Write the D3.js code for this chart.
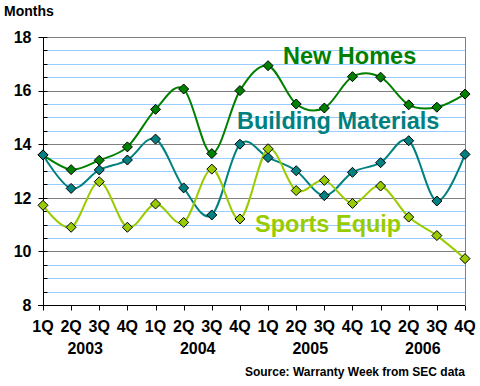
<!DOCTYPE html>
<html lang="en">
<head>
<meta charset="UTF-8">
<title>Warranty months</title>
<script src="https://d3js.org/d3.v7.min.js"></script>
<style>
  body { margin: 0; background: #fff; }
  text { font-family: Arial, "Liberation Sans", sans-serif; }
</style>
</head>
<body>
<script>
// quarters and years
var quarters = ["1Q","2Q","3Q","4Q","1Q","2Q","3Q","4Q","1Q","2Q","3Q","4Q","1Q","2Q","3Q","4Q"];
var years = ["2003", "2004", "2005", "2006"];
var yTicks = [8, 10, 12, 14, 16, 18];

// series values (months)
var newHomes = [13.6, 13.05, 13.4, 13.9, 15.3, 16.06, 13.65, 16.0, 16.93, 15.5, 15.35, 16.52, 16.5, 15.47, 15.38, 15.87];
var buildingMaterials = [13.6, 12.35, 13.04, 13.41, 14.19, 12.37, 11.36, 14.0, 13.5, 13.01, 12.08, 12.95, 13.31, 14.13, 11.88, 13.62];
var sportsEquip = [11.72, 10.9, 12.6, 10.9, 11.77, 11.08, 13.07, 11.21, 13.83, 12.27, 12.65, 11.79, 12.44, 11.28, 10.59, 9.73];

var series = [
  { name: "New Homes", values: newHomes, color: "#008000", lx: 283, ly: 64 },
  { name: "Building Materials", values: buildingMaterials, color: "#008080", lx: 237, ly: 129 },
  { name: "Sports Equip", values: sportsEquip, color: "#99CC00", lx: 255, ly: 232 }
];

var width = 480, height = 386;
var margin = { left: 43, right: 15, top: 37, bottom: 81 };

var svg = d3.select("body").append("svg")
  .attr("width", width)
  .attr("height", height);

var x = d3.scaleLinear()
  .domain([0, quarters.length - 1])
  .range([margin.left, width - margin.right]);

var y = d3.scaleLinear()
  .domain([8, 18])
  .range([height - margin.bottom, margin.top]);

// gridlines: light blue every 0.5, gray every 2
var minor = d3.range(8.5, 18, 0.5).filter(function (v) { return v % 2 !== 0; });
svg.append("g").selectAll("line")
  .data(minor)
  .enter().append("line")
  .attr("x1", x(0)).attr("x2", x(15))
  .attr("y1", function (d) { return Math.round(y(d)) + 0.5; })
  .attr("y2", function (d) { return Math.round(y(d)) + 0.5; })
  .attr("stroke", "#99CCFF");

svg.append("g").selectAll("line")
  .data(yTicks.slice(1))
  .enter().append("line")
  .attr("x1", x(0)).attr("x2", x(15))
  .attr("y1", function (d) { return Math.round(y(d)) + 0.5; })
  .attr("y2", function (d) { return Math.round(y(d)) + 0.5; })
  .attr("stroke", "#808080");

// right border
svg.append("line")
  .attr("x1", Math.round(x(15)) + 0.5).attr("x2", Math.round(x(15)) + 0.5)
  .attr("y1", y(18)).attr("y2", y(8))
  .attr("stroke", "#808080");

// y axis
var yAxis = svg.append("g")
  .attr("transform", "translate(" + (Math.round(x(0)) + 0.5) + ",0)");
yAxis.append("line")
  .attr("y1", y(18)).attr("y2", y(8)).attr("stroke", "#000");
yAxis.selectAll("line.major")
  .data(yTicks)
  .enter().append("line")
  .attr("class", "major")
  .attr("x1", -5).attr("x2", 4)
  .attr("y1", function (d) { return Math.round(y(d)) + 0.5; })
  .attr("y2", function (d) { return Math.round(y(d)) + 0.5; })
  .attr("stroke", "#000");
yAxis.selectAll("line.minor")
  .data(minor)
  .enter().append("line")
  .attr("class", "minor")
  .attr("x1", 0).attr("x2", 4)
  .attr("y1", function (d) { return Math.round(y(d)) + 0.5; })
  .attr("y2", function (d) { return Math.round(y(d)) + 0.5; })
  .attr("stroke", "#000");
yAxis.selectAll("text")
  .data(yTicks)
  .enter().append("text")
  .attr("x", -12)
  .attr("y", function (d) { return y(d); })
  .attr("dy", "0.36em")
  .attr("text-anchor", "end")
  .style("font-size", "16px").style("font-weight", "bold")
  .text(function (d) { return d; });

// x axis
var xAxis = svg.append("g")
  .attr("transform", "translate(0," + (Math.round(y(8)) + 0.5) + ")");
xAxis.append("line")
  .attr("x1", x(0) - 5).attr("x2", x(15)).attr("stroke", "#000");
xAxis.selectAll("line.tick")
  .data(quarters)
  .enter().append("line")
  .attr("class", "tick")
  .attr("x1", function (d, i) { return Math.round(x(i)) + 0.5; })
  .attr("x2", function (d, i) { return Math.round(x(i)) + 0.5; })
  .attr("y1", 0).attr("y2", 5)
  .attr("stroke", "#000");
xAxis.selectAll("text.q")
  .data(quarters)
  .enter().append("text")
  .attr("class", "q")
  .attr("x", function (d, i) { return x(i); })
  .attr("y", 26)
  .attr("text-anchor", "middle")
  .style("font-size", "16px").style("font-weight", "bold")
  .text(function (d) { return d; });
xAxis.selectAll("text.yr")
  .data(years)
  .enter().append("text")
  .attr("class", "yr")
  .attr("x", function (d, i) { return x(i * 4 + 1.5); })
  .attr("y", 48)
  .attr("text-anchor", "middle")
  .style("font-size", "16px").style("font-weight", "bold")
  .text(function (d) { return d; });

// title and source
svg.append("text")
  .attr("x", 4).attr("y", 16)
  .style("font-size", "14px").style("font-weight", "bold")
  .text("Months");
svg.append("text")
  .attr("x", x(15)).attr("y", 376)
  .attr("text-anchor", "end")
  .style("font-size", "12px").style("font-weight", "bold")
  .text("Source: Warranty Week from SEC data");

// lines and markers
var line = d3.line()
  .x(function (d, i) { return x(i); })
  .y(function (d) { return y(d); })
  .curve(d3.curveCardinal.tension(0));

series.forEach(function (s) {
  svg.append("path")
    .attr("d", line(s.values))
    .attr("fill", "none")
    .attr("stroke", s.color)
    .attr("stroke-width", 2);
});

series.forEach(function (s) {
  svg.append("g").selectAll("path")
    .data(s.values)
    .enter().append("path")
    .attr("d", "M0,-5L5,0L0,5L-5,0Z")
    .attr("transform", function (d, i) { return "translate(" + x(i) + "," + y(d) + ")"; })
    .attr("fill", s.color)
    .attr("stroke", "#000")
    .attr("stroke-width", 1);
});

series.forEach(function (s) {
  svg.append("text")
    .attr("x", s.lx).attr("y", s.ly)
    .attr("fill", s.color)
    .style("font-size", "23.5px").style("font-weight", "bold")
    .text(s.name);
});
</script>
</body>
</html>
